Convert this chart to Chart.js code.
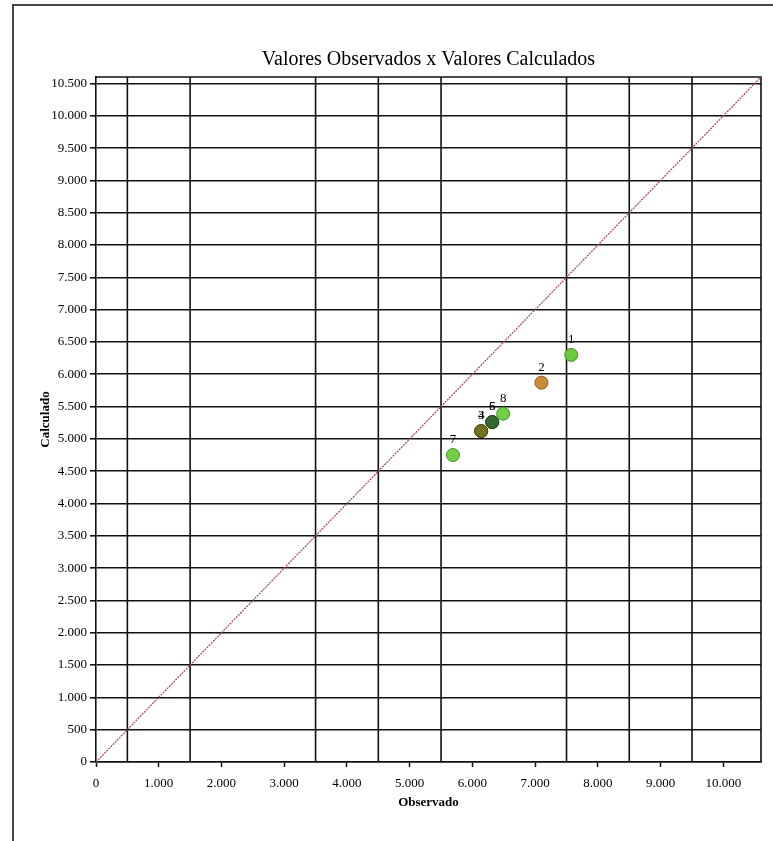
<!DOCTYPE html>
<html>
<head>
<meta charset="utf-8">
<script src="https://cdn.jsdelivr.net/npm/chart.js@4.4.0/dist/chart.umd.min.js"></script>
<style>
html, body { margin: 0; padding: 0; background: #fff; }
</style>
</head>
<body>
<canvas id="obs-calc-chart" width="773" height="841"></canvas>
<script>
// valores
var pointNames = ['1', '2', '3', '4', '5', '6', '7', '8'];
var observado = [7575, 7100, 6140, 6140, 6316, 6316, 5690, 6490];
var calculado = [6300, 5870, 5120, 5120, 5260, 5260, 4750, 5390];

// reta y = x
var refLineX = [0, 10600];
var refLineY = [0, 10600];

var xTicks = [0, 1000, 2000, 3000, 4000, 5000, 6000, 7000, 8000, 9000, 10000];
var yTicks = [0, 500, 1000, 1500, 2000, 2500, 3000, 3500, 4000, 4500, 5000,
	5500, 6000, 6500, 7000, 7500, 8000, 8500, 9000, 9500, 10000, 10500];
var xGridLines = [500, 1500, 3500, 4500, 5500, 7500, 8500, 9500];

var pointColors = ['#6cc93c', '#c98b3a', '#727224', '#727224', '#34692f', '#34692f', '#70cf45', '#70cf45'];
var pointBorders = ['#3f8f22', '#8c5c1e', '#4a4a12', '#4a4a12', '#1f451b', '#1f451b', '#449425', '#449425'];

var serif = 'Liberation Serif';

function fmt(v) {
	return v.toString().replace(/\B(?=(\d{3})+(?!\d))/g, '.');
}

var scatterData = [];
for (var i = 0; i < observado.length; i++) {
	scatterData.push({ x: observado[i], y: calculado[i] });
}
var lineData = [];
for (var j = 0; j < refLineX.length; j++) {
	lineData.push({ x: refLineX[j], y: refLineY[j] });
}

var framePlugin = {
	id: 'frame',
	beforeDraw: function(chart) {
		var ctx = chart.ctx;
		ctx.save();
		ctx.fillStyle = '#fff';
		ctx.fillRect(0, 0, chart.width, chart.height);
		ctx.strokeStyle = '#444';
		ctx.lineWidth = 2;
		ctx.beginPath();
		ctx.moveTo(13, chart.height);
		ctx.lineTo(13, 5);
		ctx.lineTo(chart.width, 5);
		ctx.stroke();
		ctx.restore();
	},
	beforeDatasetsDraw: function(chart) {
		var ctx = chart.ctx;
		var a = chart.chartArea;
		var xs = chart.scales.x;
		ctx.save();
		ctx.strokeStyle = '#111';
		ctx.lineWidth = 1.6;
		ctx.beginPath();
		xGridLines.forEach(function(v) {
			var px = xs.getPixelForValue(v);
			ctx.moveTo(px, a.top);
			ctx.lineTo(px, a.bottom);
		});
		ctx.moveTo(a.left, a.top);
		ctx.lineTo(a.right, a.top);
		ctx.lineTo(a.right, a.bottom);
		ctx.stroke();
		ctx.restore();
	},
	afterDatasetsDraw: function(chart) {
		var ctx = chart.ctx;
		var meta = chart.getDatasetMeta(0);
		ctx.save();
		ctx.fillStyle = '#000';
		ctx.font = '13px "' + serif + '"';
		ctx.textAlign = 'center';
		ctx.textBaseline = 'bottom';
		for (var k = meta.data.length - 1; k >= 0; k--) {
			var el = meta.data[k];
			ctx.fillText(pointNames[k], el.x, el.y - 9);
		}
		ctx.restore();
	}
};

var ctx = document.getElementById('obs-calc-chart').getContext('2d');
var obsChart = new Chart(ctx, {
	type: 'scatter',
	data: {
		datasets: [
			{
				label: 'Pontos',
				data: scatterData,
				pointRadius: 6.5,
				pointBackgroundColor: pointColors,
				pointBorderColor: pointBorders,
				pointBorderWidth: 1
			},
			{
				type: 'line',
				label: 'y = x',
				data: lineData,
				borderColor: '#a8454f',
				borderWidth: 1.2,
				borderDash: [2, 1],
				pointRadius: 0,
				fill: false
			}
		]
	},
	options: {
		responsive: false,
		animation: false,
		layout: {
			padding: { left: 33, right: 12, top: 40, bottom: 27 }
		},
		plugins: {
			legend: { display: false },
			tooltip: { enabled: false },
			title: {
				display: true,
				fullSize: false,
				text: 'Valores Observados x Valores Calculados',
				color: '#000',
				font: { family: serif, size: 20, weight: 'normal' },
				padding: { top: 8, bottom: 5 }
			}
		},
		scales: {
			x: {
				type: 'linear',
				min: 0,
				max: 10600,
				afterBuildTicks: function(axis) {
					axis.ticks = xTicks.map(function(v) { return { value: v }; });
				},
				afterFit: function(axis) {
					axis.height = 52;
				},
				ticks: {
					color: '#000',
					font: { family: serif, size: 13 },
					padding: 9,
					maxRotation: 0,
					autoSkip: false,
					callback: function(v) { return fmt(v); }
				},
				grid: {
					drawOnChartArea: false,
					drawTicks: true,
					tickLength: 5,
					tickColor: '#111',
					tickWidth: 1.5
				},
				border: { color: '#111', width: 1.6 },
				title: {
					display: true,
					text: 'Observado',
					color: '#000',
					font: { family: serif, size: 13, weight: 'bold' },
					padding: { top: 2, bottom: 4 }
				}
			},
			y: {
				type: 'linear',
				min: 0,
				max: 10600,
				afterBuildTicks: function(axis) {
					axis.ticks = yTicks.map(function(v) { return { value: v }; });
				},
				afterFit: function(axis) {
					axis.width = 63;
				},
				ticks: {
					color: '#000',
					font: { family: serif, size: 13 },
					padding: 3,
					autoSkip: false,
					callback: function(v) { return fmt(v); }
				},
				grid: {
					color: '#111',
					lineWidth: 1.6,
					drawTicks: true,
					tickLength: 6
				},
				border: { color: '#111', width: 1.6 },
				title: {
					display: true,
					text: 'Calculado',
					color: '#000',
					font: { family: serif, size: 13, weight: 'bold' },
					padding: { top: 5, bottom: 4 }
				}
			}
		}
	},
	plugins: [framePlugin]
});
</script>
</body>
</html>
